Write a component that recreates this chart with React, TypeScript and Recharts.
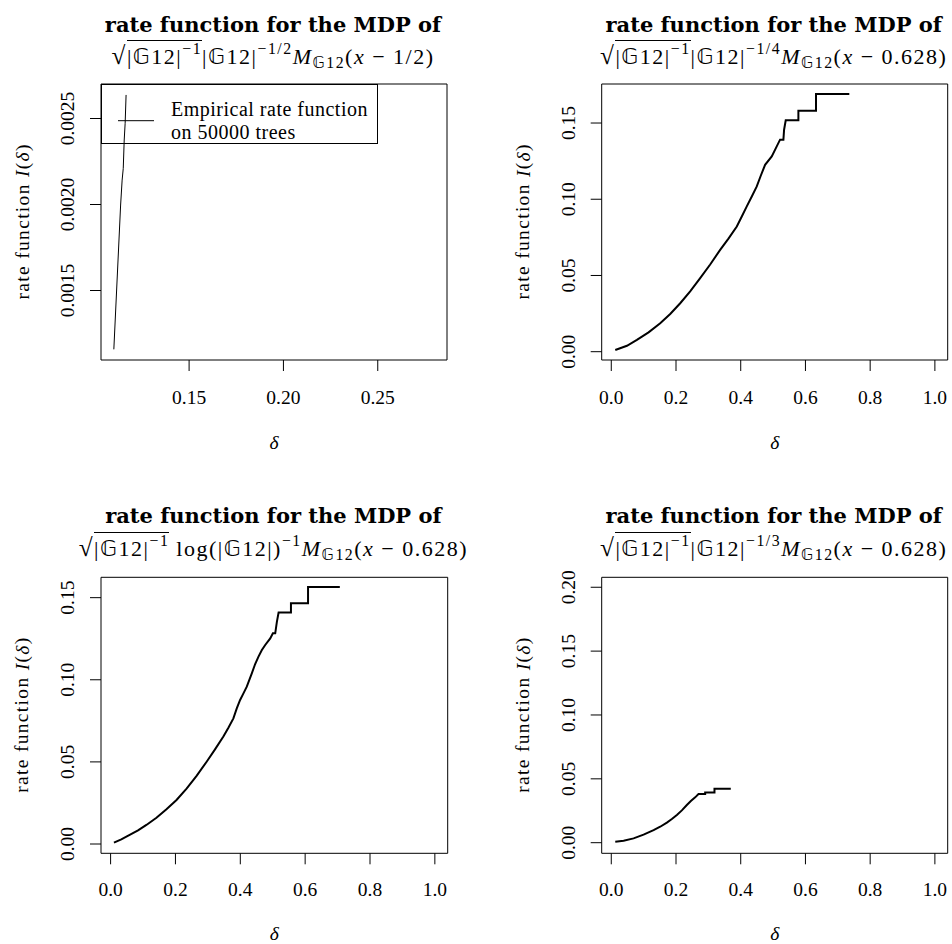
import type { ReactNode } from "react";
import { Legend, Line, LineChart, ReferenceArea, XAxis, YAxis } from "recharts";

const SERIF = "'Liberation Serif', 'DejaVu Serif', 'DejaVu Sans', serif";
const TITLE_FONT = "'DejaVu Serif', serif";
const BB_FONT = "'DejaVu Sans', 'DejaVu Serif', sans-serif";
const BB_G = "\u{1D53E}";
const TICK_FONT = 19.5;

// top left: scaled by |G12|^{-1/2}, centred at 1/2
const tlDelta = [0.1101, 0.1137, 0.1145, 0.1151, 0.1156, 0.1161, 0.1166];
const tlRate = [0.001158, 0.001997, 0.002142, 0.00221, 0.002375, 0.002472, 0.002637];
const tlXTicks = [0.15, 0.2, 0.25];
const tlYTicks = [0.0015, 0.002, 0.0025];

// top right: |G12|^{-1/4}
const trDelta = [
  0.0123, 0.0484, 0.0792, 0.1152, 0.1512, 0.1821, 0.213, 0.2438, 0.2747, 0.3056, 0.3364, 0.3621, 0.3879, 0.4033,
  0.4187, 0.4342, 0.4496, 0.4619, 0.4753, 0.4959, 0.5113, 0.5216, 0.5319, 0.534, 0.5391, 0.5782, 0.5782, 0.6327,
  0.6327, 0.7356,
];
const trRate = [
  0.0011, 0.0039, 0.0077, 0.0127, 0.0186, 0.0247, 0.0318, 0.0396, 0.0482, 0.0572, 0.0668, 0.0742, 0.0821, 0.0887,
  0.0953, 0.1018, 0.1084, 0.1154, 0.1226, 0.1281, 0.1347, 0.1391, 0.1391, 0.1456, 0.1518, 0.1518, 0.1581, 0.1581,
  0.1691, 0.1691,
];

// bottom left: log(|G12|)^{-1}
const blDelta = [
  0.0103, 0.033, 0.0588, 0.0846, 0.1104, 0.1414, 0.1723, 0.2033, 0.2343, 0.2652, 0.2962, 0.322, 0.3478, 0.3633,
  0.3787, 0.3891, 0.3994, 0.4097, 0.42, 0.4355, 0.4458, 0.4561, 0.4665, 0.4768, 0.4923, 0.5005, 0.5077, 0.5129,
  0.5181, 0.5562, 0.5562, 0.6089, 0.6089, 0.7069,
];
const blRate = [
  0.0008, 0.0028, 0.0055, 0.0083, 0.0116, 0.016, 0.0211, 0.0268, 0.0337, 0.0415, 0.0501, 0.0576, 0.0654, 0.0708,
  0.0765, 0.0826, 0.0877, 0.0917, 0.0958, 0.1039, 0.1096, 0.1141, 0.1181, 0.1212, 0.1252, 0.1283, 0.1283, 0.1354,
  0.1409, 0.1409, 0.1466, 0.1466, 0.1565, 0.1565,
];

// bottom right: |G12|^{-1/3}
const brDelta = [
  0.0123, 0.0381, 0.0689, 0.0998, 0.1307, 0.1512, 0.1718, 0.1872, 0.2027, 0.2181, 0.2335, 0.2459, 0.2593, 0.2695,
  0.2901, 0.2901, 0.3189, 0.3189, 0.3693,
];
const brRate = [
  0.0008, 0.0016, 0.0034, 0.0063, 0.0099, 0.0125, 0.0157, 0.0185, 0.0217, 0.0253, 0.0295, 0.0326, 0.0355, 0.0381,
  0.0381, 0.0394, 0.0394, 0.0423, 0.0423,
];

const unitTicks = [0, 0.2, 0.4, 0.6, 0.8, 1.0];
const rateTicks = [0, 0.05, 0.1, 0.15];
const brYTicks = [0, 0.05, 0.1, 0.15, 0.2];

const W = 476;
const H = 472;

function XTick({ x, y, payload, digits }: any) {
  return (
    <text x={x} y={y} textAnchor="middle" dominantBaseline="central" fontFamily={SERIF} fontSize={TICK_FONT} fill="#000">
      {Number(payload.value).toFixed(digits)}
    </text>
  );
}

function YTick({ x, y, payload, digits }: any) {
  return (
    <text
      x={x}
      y={y}
      transform={`rotate(-90 ${x} ${y})`}
      textAnchor="middle"
      dominantBaseline="central"
      fontFamily={SERIF}
      fontSize={TICK_FONT}
      fill="#000"
    >
      {Number(payload.value).toFixed(digits)}
    </text>
  );
}

function DeltaLabel({ atX, atY }: any) {
  return (
    <text x={atX} y={atY} textAnchor="middle" dominantBaseline="central" fontFamily={SERIF} fontSize={TICK_FONT} fontStyle="italic" fill="#000">
      δ
    </text>
  );
}

function RateLabel({ atX, atY }: any) {
  return (
    <text
      x={atX}
      y={atY}
      transform={`rotate(-90 ${atX} ${atY})`}
      textAnchor="middle"
      dominantBaseline="central"
      fontFamily={SERIF}
      fontSize={TICK_FONT}
      textLength={155}
      lengthAdjust="spacing"
      fill="#000"
    >
      rate function <tspan fontStyle="italic">I</tspan>(<tspan fontStyle="italic">δ</tspan>)
    </text>
  );
}

function LegendBox() {
  return (
    <div
      style={{
        position: "relative",
        width: 277,
        height: 60,
        border: "1px solid #000",
        boxSizing: "border-box",
        fontFamily: SERIF,
        fontSize: 20,
        color: "#000",
      }}
    >
      <svg width={60} height={58} style={{ position: "absolute", left: 0, top: 0 }}>
        <line x1={16} x2={52} y1={35.7} y2={35.7} stroke="#000" strokeWidth={1} />
      </svg>
      <div style={{ position: "absolute", left: 69, top: 12.75, lineHeight: "23px", letterSpacing: 0.5, whiteSpace: "nowrap" }}>
        Empirical rate function
        <br />
        on 50000 trees
      </div>
    </div>
  );
}

const G = () => <span style={{ fontFamily: BB_FONT }}>{BB_G}</span>;
const Sup = ({ children }: { children: ReactNode }) => (
  <span style={{ fontSize: "0.72em", position: "relative", top: "-0.6em" }}>{children}</span>
);
const Sub = ({ children }: { children: ReactNode }) => (
  <span style={{ fontSize: "0.72em", position: "relative", top: "0.3em" }}>{children}</span>
);
const Root = () => (
  <>
    <span style={{ fontSize: "1.15em" }}>√</span>
    <span style={{ borderTop: "1.2px solid #000", paddingTop: 3 }}>
      |<G />12|<Sup>−1</Sup>
    </span>
  </>
);

const LINE2_FONT = 22;

function Title({ cx, base1, base2, children }: { cx: number; base1: number; base2: number; children: ReactNode }) {
  return (
    <>
      <div
        style={{
          position: "absolute",
          left: cx - 300,
          width: 600,
          top: base1 - 17.8,
          textAlign: "center",
          fontFamily: TITLE_FONT,
          fontWeight: "bold",
          fontSize: 21,
          lineHeight: "21px",
          whiteSpace: "nowrap",
          color: "#000",
        }}
      >
        rate function for the MDP of
      </div>
      <div
        style={{
          position: "absolute",
          left: cx - 300,
          width: 600,
          top: base2 - LINE2_FONT * 0.8375,
          textAlign: "center",
          fontFamily: SERIF,
          fontSize: LINE2_FONT,
          lineHeight: `${LINE2_FONT}px`,
          letterSpacing: 1.5,
          whiteSpace: "nowrap",
          color: "#000",
        }}
      >
        {children}
      </div>
    </>
  );
}

interface PanelProps {
  left: number;
  top: number;
  delta: number[];
  rate: number[];
  xDomain: [number, number];
  yDomain: [number, number];
  xTicks: number[];
  yTicks: number[];
  xDigits: number;
  yDigits: number;
  box: { left: number; right: number; top: number; bottom: number };
  xTickGap: number;
  xLabelGap: number;
  strokeWidth: number;
  legend?: boolean;
  titleBase: [number, number];
  formula: ReactNode;
}

function Panel(p: PanelProps) {
  const data = p.delta.map((d, i) => ({ delta: d, rate: p.rate[i] }));
  const cx = (p.box.left + p.box.right) / 2;
  const cy = (p.box.top + p.box.bottom) / 2;
  return (
    <div style={{ position: "absolute", left: p.left, top: p.top, width: W, height: H }}>
      <LineChart width={W} height={H} data={data} margin={{ top: p.box.top, right: W - p.box.right, bottom: 0, left: 0 }}>
        <XAxis
          type="number"
          dataKey="delta"
          domain={p.xDomain}
          allowDataOverflow
          ticks={p.xTicks}
          interval={0}
          height={H - p.box.bottom}
          axisLine={false}
          tickSize={11}
          tickMargin={p.xTickGap - 11}
          tickLine={{ stroke: "#000" }}
          tick={(t: any) => <XTick {...t} digits={p.xDigits} />}
          label={<DeltaLabel atX={cx} atY={p.box.bottom + p.xLabelGap} />}
        />
        <YAxis
          type="number"
          dataKey="rate"
          domain={p.yDomain}
          allowDataOverflow
          ticks={p.yTicks}
          interval={0}
          width={p.box.left}
          axisLine={false}
          tickSize={11}
          tickMargin={22}
          tickLine={{ stroke: "#000" }}
          tick={(t: any) => <YTick {...t} digits={p.yDigits} />}
          label={<RateLabel atX={p.box.left - 79} atY={cy} />}
        />
        <ReferenceArea
          x1={p.xDomain[0]}
          x2={p.xDomain[1]}
          y1={p.yDomain[0]}
          y2={p.yDomain[1]}
          fill="none"
          fillOpacity={0}
          stroke="#000"
          strokeWidth={1}
          ifOverflow="visible"
        />
        <Line
          type="linear"
          dataKey="rate"
          stroke="#000"
          strokeWidth={p.strokeWidth}
          dot={false}
          activeDot={false}
          isAnimationActive={false}
        />
        {p.legend && (
          <Legend
            layout="vertical"
            align="center"
            verticalAlign="middle"
            wrapperStyle={{ left: p.box.left, top: p.box.top, width: 277, height: 60 }}
            content={() => <LegendBox />}
          />
        )}
      </LineChart>
      <Title cx={cx - 1} base1={p.titleBase[0]} base2={p.titleBase[1]}>
        {p.formula}
      </Title>
    </div>
  );
}

export default function App() {
  const topBox = { top: 84, bottom: 360 };
  const botBox = { top: 105.3, bottom: 381.3 };
  return (
    <div style={{ position: "absolute", left: 0, top: 0, width: 952, height: 944, background: "#fff", overflow: "hidden" }}>
      <Panel
        left={0}
        top={0}
        delta={tlDelta}
        rate={tlRate}
        xDomain={[0.1033, 0.2867]}
        yDomain={[0.001096, 0.0027006]}
        xTicks={tlXTicks}
        yTicks={tlYTicks}
        xDigits={2}
        yDigits={4}
        box={{ left: 101, right: 447, ...topBox }}
        xTickGap={37.5}
        xLabelGap={82}
        strokeWidth={1}
        legend
        titleBase={[32, 62]}
        formula={
          <>
            <Root />|<G />12|<Sup>−1/2</Sup>
            <i>M</i>
            <Sub>
              <G />12
            </Sub>
            (<i>x</i> − 1/2)
          </>
        }
      />
      <Panel
        left={476}
        top={0}
        delta={trDelta}
        rate={trRate}
        xDomain={[-0.0296, 1.0396]}
        yDomain={[-0.00545, 0.1756]}
        xTicks={unitTicks}
        yTicks={rateTicks}
        xDigits={1}
        yDigits={2}
        box={{ left: 125.7, right: 471.7, ...topBox }}
        xTickGap={37.5}
        xLabelGap={82}
        strokeWidth={2}
        titleBase={[32, 62]}
        formula={
          <>
            <Root />|<G />12|<Sup>−1/4</Sup>
            <i>M</i>
            <Sub>
              <G />12
            </Sub>
            (<i>x</i> − 0.628)
          </>
        }
      />
      <Panel
        left={0}
        top={472}
        delta={blDelta}
        rate={blRate}
        xDomain={[-0.0296, 1.0396]}
        yDomain={[-0.00566, 0.1624]}
        xTicks={unitTicks}
        yTicks={rateTicks}
        xDigits={1}
        yDigits={2}
        box={{ left: 101, right: 447.7, ...botBox }}
        xTickGap={35.7}
        xLabelGap={80}
        strokeWidth={2}
        titleBase={[51, 82]}
        formula={
          <>
            <Root /> log(|<G />12|)<Sup>−1</Sup>
            <i>M</i>
            <Sub>
              <G />12
            </Sub>
            (<i>x</i> − 0.628)
          </>
        }
      />
      <Panel
        left={476}
        top={472}
        delta={brDelta}
        rate={brRate}
        xDomain={[-0.0296, 1.0396]}
        yDomain={[-0.0083, 0.2078]}
        xTicks={unitTicks}
        yTicks={brYTicks}
        xDigits={1}
        yDigits={2}
        box={{ left: 125.7, right: 471.7, ...botBox }}
        xTickGap={35.7}
        xLabelGap={80}
        strokeWidth={2}
        titleBase={[51, 82]}
        formula={
          <>
            <Root />|<G />12|<Sup>−1/3</Sup>
            <i>M</i>
            <Sub>
              <G />12
            </Sub>
            (<i>x</i> − 0.628)
          </>
        }
      />
    </div>
  );
}
